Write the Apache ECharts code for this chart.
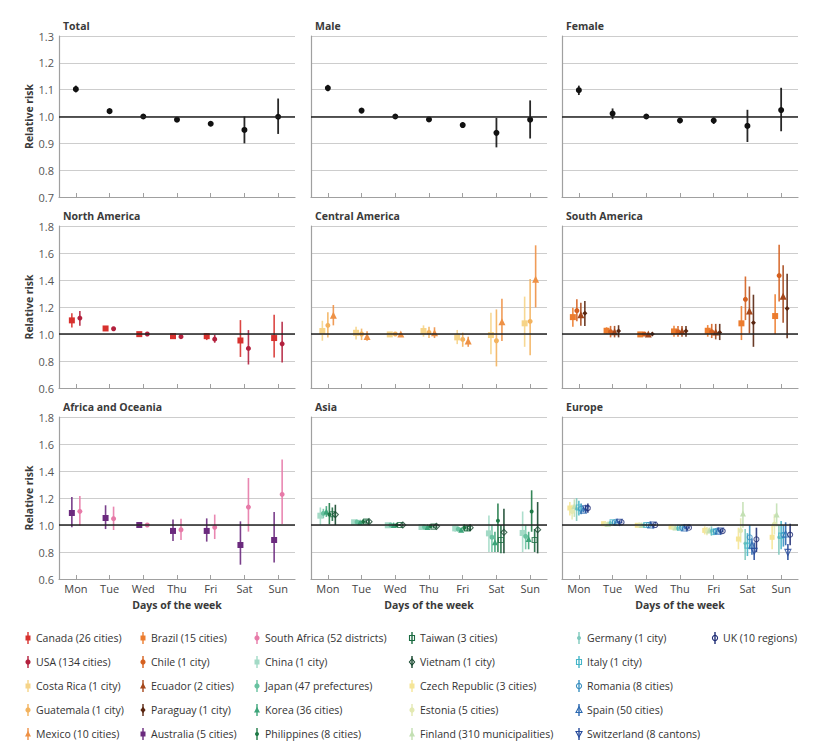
<!DOCTYPE html>
<html><head><meta charset="utf-8">
<script src="https://cdn.jsdelivr.net/npm/echarts@6/dist/echarts.min.js"></script>
<style>html,body{margin:0;padding:0;background:#fff}#c{width:833px;height:749px}</style>
</head><body><div id="c"></div>
<script>
const days = ['Mon','Tue','Wed','Thu','Fri','Sat','Sun'];
const panelTitles = ['Total','Male','Female','North America','Central America','South America','Africa and Oceania','Asia','Europe'];
const yRangeTop = [0.7, 1.3, 0.1];
const yRangeRegion = [0.6, 1.8, 0.2];

// Top row: overall estimates
const totalRR = [1.102, 1.020, 1.000, 0.988, 0.973, 0.950, 0.999];
const totalLo = [1.090, 1.014, 1.000, 0.982, 0.964, 0.900, 0.935];
const totalHi = [1.115, 1.026, 1.000, 0.994, 0.982, 1.000, 1.067];
const maleRR = [1.106, 1.022, 1.000, 0.989, 0.968, 0.939, 0.988];
const maleLo = [1.094, 1.016, 1.000, 0.982, 0.957, 0.885, 0.918];
const maleHi = [1.118, 1.028, 1.000, 0.996, 0.979, 0.995, 1.060];
const femaleRR = [1.098, 1.011, 1.000, 0.985, 0.985, 0.965, 1.024];
const femaleLo = [1.080, 0.990, 1.000, 0.975, 0.972, 0.905, 0.945];
const femaleHi = [1.115, 1.030, 1.000, 0.995, 0.997, 1.025, 1.107];

// North America
const canadaRR = [1.101, 1.041, 0.999, 0.984, 0.984, 0.952, 0.970];
const canadaLo = [1.049, 1.030, 0.995, 0.975, 0.955, 0.830, 0.826];
const canadaHi = [1.153, 1.055, 1.003, 0.993, 1.004, 1.103, 1.143];
const usaRR = [1.118, 1.039, 1.000, 0.980, 0.962, 0.893, 0.927];
const usaLo = [1.061, 1.025, 0.996, 0.970, 0.935, 0.774, 0.788];
const usaHi = [1.170, 1.052, 1.004, 0.990, 0.994, 1.029, 1.091];
// Central America
const costaRicaRR = [1.022, 1.009, 0.997, 1.022, 0.975, 0.992, 1.079];
const costaRicaLo = [0.950, 0.960, 0.990, 0.980, 0.925, 0.850, 0.905];
const costaRicaHi = [1.098, 1.054, 1.004, 1.064, 1.030, 1.158, 1.277];
const guatemalaRR = [1.064, 1.000, 1.000, 1.012, 0.960, 0.950, 1.094];
const guatemalaLo = [0.975, 0.955, 0.995, 0.970, 0.905, 0.760, 0.843];
const guatemalaHi = [1.162, 1.040, 1.005, 1.054, 1.010, 1.182, 1.408];
const mexicoRR = [1.138, 0.982, 1.000, 1.009, 0.948, 1.091, 1.406];
const mexicoLo = [1.064, 0.950, 0.996, 0.970, 0.905, 0.948, 1.197];
const mexicoHi = [1.215, 1.021, 1.004, 1.050, 0.980, 1.262, 1.657];
// South America
const brazilRR = [1.125, 1.024, 0.997, 1.019, 1.024, 1.079, 1.133];
const brazilLo = [1.054, 1.000, 0.992, 0.980, 0.980, 0.955, 1.000];
const brazilHi = [1.195, 1.050, 1.002, 1.061, 1.066, 1.207, 1.295];
const chileRR = [1.173, 1.017, 1.000, 1.017, 1.017, 1.257, 1.433];
const chileLo = [1.094, 0.975, 0.995, 0.980, 0.970, 1.103, 1.240];
const chileHi = [1.257, 1.060, 1.005, 1.060, 1.075, 1.426, 1.662];
const ecuadorRR = [1.143, 1.017, 1.000, 1.022, 1.014, 1.171, 1.280];
const ecuadorLo = [1.061, 0.975, 0.995, 0.980, 0.960, 1.004, 1.084];
const ecuadorHi = [1.232, 1.060, 1.005, 1.060, 1.075, 1.352, 1.510];
const paraguayRR = [1.153, 1.022, 1.000, 1.022, 1.012, 1.084, 1.188];
const paraguayLo = [1.059, 0.975, 0.995, 0.980, 0.955, 0.905, 0.968];
const paraguayHi = [1.244, 1.065, 1.005, 1.060, 1.075, 1.291, 1.446];
// Africa and Oceania
const australiaRR = [1.089, 1.052, 1.000, 0.956, 0.956, 0.852, 0.889];
const australiaLo = [0.983, 0.970, 1.000, 0.881, 0.877, 0.706, 0.723];
const australiaHi = [1.207, 1.146, 1.000, 1.040, 1.049, 1.027, 1.096];
const southAfricaRR = [1.101, 1.047, 1.000, 0.965, 0.983, 1.133, 1.227];
const southAfricaLo = [0.995, 0.963, 1.000, 0.889, 0.896, 0.951, 1.007];
const southAfricaHi = [1.215, 1.136, 1.000, 1.047, 1.077, 1.348, 1.486];
// Asia
const chinaRR = [1.069, 1.020, 0.998, 0.985, 0.975, 0.938, 0.941];
const chinaLo = [1.000, 1.010, 0.992, 0.978, 0.950, 0.800, 0.800];
const chinaHi = [1.130, 1.030, 1.004, 0.992, 1.000, 1.070, 1.100];
const japanRR = [1.086, 1.022, 1.000, 0.985, 0.970, 0.909, 0.916];
const japanLo = [1.050, 1.015, 0.996, 0.980, 0.955, 0.800, 0.820];
const japanHi = [1.120, 1.030, 1.004, 0.990, 0.985, 1.000, 1.000];
const koreaRR = [1.100, 1.020, 1.000, 0.986, 0.965, 0.872, 0.896];
const koreaLo = [1.060, 1.014, 0.997, 0.981, 0.952, 0.800, 0.820];
const koreaHi = [1.140, 1.026, 1.003, 0.991, 0.978, 0.950, 0.950];
const philippinesRR = [1.077, 1.025, 1.000, 0.990, 0.980, 1.032, 1.100];
const philippinesLo = [1.005, 1.010, 0.995, 0.980, 0.955, 0.800, 0.950];
const philippinesHi = [1.163, 1.040, 1.005, 1.000, 1.005, 1.160, 1.257];
const taiwanRR = [1.080, 1.025, 1.000, 0.988, 0.975, 0.889, 0.889];
const taiwanLo = [1.030, 1.012, 0.994, 0.978, 0.955, 0.790, 0.800];
const taiwanHi = [1.130, 1.038, 1.006, 0.998, 0.995, 1.000, 0.970];
const vietnamRR = [1.077, 1.025, 1.000, 0.990, 0.980, 0.946, 0.965];
const vietnamLo = [1.000, 1.010, 0.994, 0.978, 0.955, 0.790, 0.790];
const vietnamHi = [1.150, 1.040, 1.006, 1.002, 1.005, 1.120, 1.170];
// Europe
const czechRR = [1.126, 1.010, 0.998, 0.985, 0.960, 0.896, 0.909];
const czechLo = [1.070, 1.000, 0.990, 0.975, 0.930, 0.820, 0.820];
const czechHi = [1.170, 1.020, 1.006, 0.995, 0.990, 0.980, 1.000];
const estoniaRR = [1.100, 1.005, 1.000, 0.980, 0.955, 0.958, 1.007];
const estoniaLo = [1.040, 0.990, 0.990, 0.965, 0.925, 0.870, 0.930];
const estoniaHi = [1.150, 1.020, 1.010, 0.995, 0.985, 1.050, 1.080];
const finlandRR = [1.140, 1.010, 1.000, 0.982, 0.960, 1.086, 1.077];
const finlandLo = [1.060, 1.000, 0.995, 0.975, 0.940, 0.980, 0.990];
const finlandHi = [1.190, 1.020, 1.005, 0.990, 0.980, 1.170, 1.160];
const germanyRR = [1.120, 1.015, 1.000, 0.975, 0.955, 0.864, 0.909];
const germanyLo = [1.030, 1.000, 0.990, 0.960, 0.920, 0.740, 0.780];
const germanyHi = [1.200, 1.030, 1.010, 0.990, 0.990, 0.970, 1.000];
const italyRR = [1.130, 1.020, 1.000, 0.980, 0.950, 0.847, 0.921];
const italyLo = [1.070, 1.005, 0.992, 0.965, 0.925, 0.770, 0.820];
const italyHi = [1.180, 1.035, 1.008, 0.995, 0.975, 0.940, 1.030];
const romaniaRR = [1.120, 1.020, 1.000, 0.980, 0.955, 0.909, 0.926];
const romaniaLo = [1.080, 1.008, 0.994, 0.970, 0.935, 0.820, 0.840];
const romaniaHi = [1.160, 1.032, 1.006, 0.990, 0.975, 1.000, 1.000];
const spainRR = [1.110, 1.020, 1.000, 0.978, 0.955, 0.850, 0.933];
const spainLo = [1.095, 1.015, 0.997, 0.973, 0.948, 0.780, 0.850];
const spainHi = [1.125, 1.025, 1.003, 0.983, 0.962, 0.900, 1.020];
const switzerlandRR = [1.120, 1.020, 1.000, 0.980, 0.955, 0.805, 0.797];
const switzerlandLo = [1.090, 1.010, 0.995, 0.970, 0.940, 0.740, 0.740];
const switzerlandHi = [1.150, 1.030, 1.005, 0.990, 0.970, 0.870, 0.860];
const ukRR = [1.125, 1.020, 1.000, 0.980, 0.955, 0.894, 0.928];
const ukLo = [1.090, 1.012, 0.996, 0.972, 0.945, 0.800, 0.850];
const ukHi = [1.160, 1.028, 1.004, 0.988, 0.965, 0.980, 1.010];

// Series specs (style + panel), legend column/row
const SERIES = [
  {name:'Total', panel:0, rr:totalRR, lo:totalLo, hi:totalHi, color:'#111', sym:'circle', size:6, dx:0},
  {name:'Male', panel:1, rr:maleRR, lo:maleLo, hi:maleHi, color:'#111', sym:'circle', size:6, dx:0},
  {name:'Female', panel:2, rr:femaleRR, lo:femaleLo, hi:femaleHi, color:'#111', sym:'circle', size:6, dx:0},
  {name:'Canada (26 cities)', panel:3, rr:canadaRR, lo:canadaLo, hi:canadaHi, color:'#d7312e', sym:'rect', size:6, dx:-4, lg:[0,0]},
  {name:'USA (134 cities)', panel:3, rr:usaRR, lo:usaLo, hi:usaHi, color:'#b3203d', sym:'circle', size:5, dx:4, lg:[0,1]},
  {name:'Costa Rica (1 city)', panel:4, rr:costaRicaRR, lo:costaRicaLo, hi:costaRicaHi, color:'#f6d488', sym:'rect', size:6, dx:-5.5, lg:[0,2]},
  {name:'Guatemala (1 city)', panel:4, rr:guatemalaRR, lo:guatemalaLo, hi:guatemalaHi, color:'#f3b35e', sym:'circle', size:5, dx:0, lg:[0,3]},
  {name:'Mexico (10 cities)', panel:4, rr:mexicoRR, lo:mexicoLo, hi:mexicoHi, color:'#ee9146', sym:'triangle', size:7, dx:5.5, lg:[0,4]},
  {name:'Brazil (15 cities)', panel:5, rr:brazilRR, lo:brazilLo, hi:brazilHi, color:'#ec7c2e', sym:'rect', size:6, dx:-6, lg:[1,0]},
  {name:'Chile (1 city)', panel:5, rr:chileRR, lo:chileLo, hi:chileHi, color:'#d5601f', sym:'circle', size:5, dx:-2, lg:[1,1]},
  {name:'Ecuador (2 cities)', panel:5, rr:ecuadorRR, lo:ecuadorLo, hi:ecuadorHi, color:'#a5471b', sym:'triangle', size:7, dx:2, lg:[1,2]},
  {name:'Paraguay (1 city)', panel:5, rr:paraguayRR, lo:paraguayLo, hi:paraguayHi, color:'#5a2610', sym:'diamond', size:5, dx:6, lg:[1,3]},
  {name:'Australia (5 cities)', panel:6, rr:australiaRR, lo:australiaLo, hi:australiaHi, color:'#6b2a7e', sym:'rect', size:6, dx:-4, lg:[1,4]},
  {name:'South Africa (52 districts)', panel:6, rr:southAfricaRR, lo:southAfricaLo, hi:southAfricaHi, color:'#e77aa8', sym:'circle', size:5, dx:4, lg:[2,0]},
  {name:'China (1 city)', panel:7, rr:chinaRR, lo:chinaLo, hi:chinaHi, color:'#a3dac6', sym:'rect', size:6, dx:-7.5, lg:[2,1]},
  {name:'Japan (47 prefectures)', panel:7, rr:japanRR, lo:japanLo, hi:japanHi, color:'#68c2a0', sym:'circle', size:5, dx:-4.5, lg:[2,2]},
  {name:'Korea (36 cities)', panel:7, rr:koreaRR, lo:koreaLo, hi:koreaHi, color:'#3ca479', sym:'triangle', size:6, dx:-1.5, lg:[2,3]},
  {name:'Philippines (8 cities)', panel:7, rr:philippinesRR, lo:philippinesLo, hi:philippinesHi, color:'#1f7a47', sym:'circle', size:4, dx:1.5, lg:[2,4]},
  {name:'Taiwan (3 cities)', panel:7, rr:taiwanRR, lo:taiwanLo, hi:taiwanHi, color:'#1b6b41', sym:'rect', size:5, dx:4.5, hollow:true, lg:[3,0]},
  {name:'Vietnam (1 city)', panel:7, rr:vietnamRR, lo:vietnamLo, hi:vietnamHi, color:'#16472e', sym:'diamond', size:6, dx:7.5, hollow:true, lg:[3,1]},
  {name:'Czech Republic (3 cities)', panel:8, rr:czechRR, lo:czechLo, hi:czechHi, color:'#f5e597', sym:'rect', size:5, dx:-9, lg:[3,2]},
  {name:'Estonia (5 cities)', panel:8, rr:estoniaRR, lo:estoniaLo, hi:estoniaHi, color:'#e3e9b2', sym:'circle', size:5, dx:-6.75, lg:[3,3]},
  {name:'Finland (310 municipalities)', panel:8, rr:finlandRR, lo:finlandLo, hi:finlandHi, color:'#c3e0b3', sym:'triangle', size:6, dx:-4.5, lg:[3,4]},
  {name:'Germany (1 city)', panel:8, rr:germanyRR, lo:germanyLo, hi:germanyHi, color:'#7ec9bd', sym:'circle', size:3.5, dx:-2.25, lg:[4,0]},
  {name:'Italy (1 city)', panel:8, rr:italyRR, lo:italyLo, hi:italyHi, color:'#45b5c8', sym:'rect', size:5, dx:0, hollow:true, lg:[4,1]},
  {name:'Romania (8 cities)', panel:8, rr:romaniaRR, lo:romaniaLo, hi:romaniaHi, color:'#3a90c0', sym:'circle', size:5, dx:2.25, hollow:true, lg:[4,2]},
  {name:'Spain (50 cities)', panel:8, rr:spainRR, lo:spainLo, hi:spainHi, color:'#2b68b0', sym:'triangle', size:6, dx:4.5, hollow:true, lg:[4,3]},
  {name:'Switzerland (8 cantons)', panel:8, rr:switzerlandRR, lo:switzerlandLo, hi:switzerlandHi, color:'#264a9b', sym:'triangle', rot:180, size:6, dx:6.75, hollow:true, lg:[4,4]},
  {name:'UK (10 regions)', panel:8, rr:ukRR, lo:ukLo, hi:ukHi, color:'#1f2d76', sym:'circle', size:5, dx:9, hollow:true, lg:[5,0]}
];

const FONT = '"Open Sans", "Noto Sans", sans-serif';
const COLS = [59, 311, 562];
const ROWS = [36, 226, 417];
const GW = 236;
const GH = [161, 162, 162];
const LEG_ICON_X = [28, 143, 257, 412, 579, 715];
const LEG_Y = [638, 662, 686, 710, 734];

const grids = [], xAxes = [], yAxes = [], titles = [], series = [];
for (let p = 0; p < 9; p++) {
  const r = Math.floor(p / 3), c = p % 3;
  const rng = r === 0 ? yRangeTop : yRangeRegion;
  grids.push({left: COLS[c], top: ROWS[r], width: GW, height: GH[r]});
  titles.push({text: panelTitles[p], left: COLS[c] - 1, top: ROWS[r] - 21,
    textStyle: {fontSize: 10.5, fontWeight: 'bold', color: '#3a3a3a', fontFamily: FONT}});
  xAxes.push({type: 'category', gridIndex: p, data: days, boundaryGap: true,
    axisLine: {show: true, lineStyle: {color: '#a0a0a0', width: 1.2}},
    axisTick: {show: true, alignWithLabel: true, inside: true, length: 4, lineStyle: {color: '#a0a0a0'}},
    axisLabel: {show: r === 2, color: '#444', fontSize: 11, margin: 4, fontFamily: FONT},
    splitLine: {show: false},
    name: r === 2 ? 'Days of the week' : '', nameLocation: 'middle', nameGap: 20,
    nameTextStyle: {fontSize: 10.5, fontWeight: 'bold', color: '#3a3a3a', fontFamily: FONT}});
  yAxes.push({type: 'value', gridIndex: p, min: rng[0], max: rng[1], interval: rng[2],
    axisLine: {show: true, lineStyle: {color: '#a0a0a0', width: 1.2}},
    axisTick: {show: false},
    axisLabel: {show: c === 0, color: '#555', fontSize: 11, margin: 5, fontFamily: FONT,
      formatter: v => v.toFixed(1)},
    splitLine: {show: true, lineStyle: {color: '#cdcdcd', width: 1}},
    name: c === 0 ? 'Relative risk' : '', nameLocation: 'middle', nameGap: 22, nameRotate: 90,
    nameTextStyle: {fontSize: 10.5, fontWeight: 'bold', color: '#3a3a3a', fontFamily: FONT}});
  // reference line at RR = 1
  series.push({type: 'line', xAxisIndex: p, yAxisIndex: p, data: [], silent: true, z: 1,
    markLine: {silent: true, symbol: 'none', label: {show: false},
      lineStyle: {color: '#222', width: 1.5, type: 'solid'}, data: [{yAxis: 1}]}});
}

SERIES.forEach(s => {
  const dx = s.dx;
  const lw = s.panel < 3 ? 1.8 : 1.6;
  series.push({type: 'custom', name: s.name, xAxisIndex: s.panel, yAxisIndex: s.panel, z: 3, silent: true,
    encode: {x: 0, y: [1, 2]},
    data: days.map((d, i) => [i, s.lo[i], s.hi[i]]),
    renderItem: (params, api) => {
      const i = api.value(0);
      const a = api.coord([i, api.value(1)]);
      const b = api.coord([i, api.value(2)]);
      return {type: 'line', shape: {x1: a[0] + dx, y1: a[1], x2: b[0] + dx, y2: b[1]},
        style: {stroke: s.color, lineWidth: lw, opacity: 0.9}};
    }});
  series.push({type: 'scatter', name: s.name, xAxisIndex: s.panel, yAxisIndex: s.panel, z: 4, silent: true,
    data: s.rr.map((v, i) => [i, v]),
    symbol: s.sym, symbolSize: s.size, symbolOffset: [dx, 0], symbolRotate: s.rot || 0,
    itemStyle: s.hollow ? {color: 'rgba(255,255,255,0)', borderColor: s.color, borderWidth: 1.1}
                        : {color: s.color, opacity: 1}});
});

// legend drawn as graphics
const graphics = [];
function markerShape(s, x, y) {
  const st = s.hollow ? {fill: 'none', stroke: s.color, lineWidth: 1.1} : {fill: s.color};
  if (s.sym === 'rect') return {type: 'rect', shape: {x: x - 2.5, y: y - 2.5, width: 5, height: 5}, style: st};
  if (s.sym === 'circle') { const rr = s.size <= 4 ? 2 : 2.6; return {type: 'circle', shape: {cx: x, cy: y, r: rr}, style: st}; }
  if (s.sym === 'diamond') return {type: 'polygon', shape: {points: [[x, y - 3.2], [x + 2.6, y], [x, y + 3.2], [x - 2.6, y]]}, style: st};
  if (s.sym === 'triangle' && s.rot) return {type: 'polygon', shape: {points: [[x - 3, y - 2.5], [x + 3, y - 2.5], [x, y + 3]]}, style: st};
  return {type: 'polygon', shape: {points: [[x, y - 3.2], [x + 3, y + 2.5], [x - 3, y + 2.5]]}, style: st};
}
SERIES.filter(s => s.lg).forEach(s => {
  const x = LEG_ICON_X[s.lg[0]], y = LEG_Y[s.lg[1]];
  graphics.push({type: 'line', shape: {x1: x, y1: y - 6, x2: x, y2: y + 6}, style: {stroke: s.color, lineWidth: 1.4}, silent: true});
  graphics.push(Object.assign(markerShape(s, x, y), {silent: true}));
  graphics.push({type: 'text', x: x + 8, y: y, silent: true,
    style: {text: s.name, fontSize: 10.5, fontFamily: FONT, fill: '#333', verticalAlign: 'middle', align: 'left'}});
});

const chart = echarts.init(document.getElementById('c'), null, {renderer: 'svg'});
chart.setOption({
  animation: false,
  backgroundColor: '#fff',
  title: titles,
  grid: grids,
  xAxis: xAxes,
  yAxis: yAxes,
  series: series,
  graphic: graphics
});
</script></body></html>
